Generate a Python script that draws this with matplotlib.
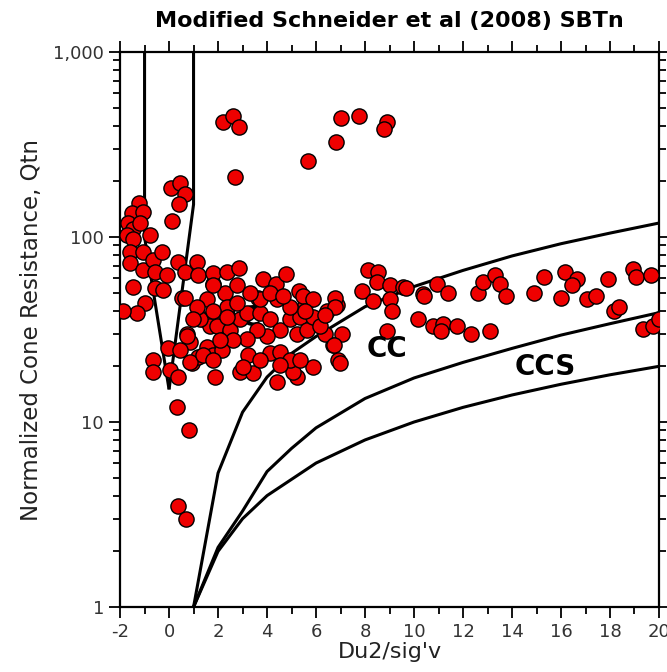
import numpy as np
import matplotlib
matplotlib.use('Agg')
import matplotlib.pyplot as plt
from matplotlib.ticker import MultipleLocator, LogLocator, FuncFormatter, NullFormatter

# ---------------- CPT data: normalised pore pressure vs Qtn ----------------
du2 = [2.19, 2.60, 2.87, 2.71, 0.07, 0.45, 0.67, 0.41, 0.11,
       5.66, 6.82, 7.03, 7.77, 8.91, 8.76,
       -1.21, -1.52, -1.05, -1.66, -1.46, -1.18, -1.73, -1.46, -0.78, -1.59,
       -1.59, -1.05, -1.05, -0.64, -0.30, -0.57, -0.09, 0.38, 0.65, 1.13,
       1.20, 1.81, 2.29, -1.46, -0.57, -0.23, 0.52, -0.98, -1.32, -1.87,
       1.54, 1.81, 1.40, 1.67, 0.86, 0.72, -0.03, 0.45, -0.64, -0.64,
       0.04, 0.38, 0.93, 1.20, 1.54, 1.81, 1.88, 0.31, 0.82, 0.38, 0.68,
       1.81, 2.36, 2.87, 1.81, 2.76, 3.82, 4.37, 4.78, 0.65, 3.64, 5.32,
       0.72, 0.86, 2.90, 3.44, 4.39, 5.21, 6.91, 7.05, 6.71, 6.84, 6.78,
       6.44, 6.37, 5.89, 5.07, 3.24, 1.40, 1.27, 2.15, 1.95, 2.49, 2.90,
       3.17, 3.71, 4.12, 4.53, 4.94, 5.35, 5.21, 5.62, 5.89, 6.16, 5.55,
       4.94, 4.39, 5.48, 5.89, 3.99, 3.58, 3.17, 2.63, 2.08, 4.12, 4.53,
       4.94, 5.35, 4.53, 3.71, 3.03, 1.81, 3.71, 3.31, 4.12, 4.67, 2.36,
       2.76, 1.81, 2.36, 1.13, 0.99,
       8.13, 8.54, 8.48, 7.87, 9.02, 9.56, 8.34, 9.02, 9.09, 8.88, 10.38,
       10.18, 9.67, 10.42, 10.94, 11.38, 12.62, 12.82, 13.30, 13.51, 13.74,
       14.88, 15.29, 15.98, 16.18, 16.66, 16.46, 17.07, 17.42, 17.92, 18.17,
       18.38, 18.93, 19.06, 19.68, 19.34, 19.75, 20.0,
       10.76, 11.18, 11.10, 11.77, 12.34, 13.09, 6.99, 6.79, 6.38, 6.72, 5.55]
qtn = [420, 451, 395, 212, 183, 195, 171, 150, 122,
       259, 325, 438, 451, 420, 385,
       152, 134, 137, 119, 111, 119, 102, 98, 102, 83,
       72, 83, 66, 75, 83, 65, 62, 73, 65, 73,
       62, 56, 50, 54, 53, 52, 47, 44, 39, 40,
       46, 38, 36, 33, 27, 30, 25, 24.5, 21.6, 18.7,
       19.1, 17.6, 20.8, 22.5, 25.5, 23, 17.6, 12.1, 9.0, 3.5, 3.0,
       64, 65, 68, 55, 55, 59, 56, 63, 47, 47, 51,
       29, 21, 18.7, 18.3, 16.5, 17.6, 21.6, 30, 26, 43, 47,
       40, 30, 19.9, 18.7, 23, 23, 36, 24.5, 33, 31.4, 36,
       39, 38.7, 36, 31.4, 36, 37, 30, 31.4, 37, 33, 43,
       42, 46, 48, 46, 29, 31.4, 28, 27.7, 27.7, 23.5, 24,
       21.6, 21.6, 20.3, 21.6, 19.9, 21.6, 46, 50, 50, 48, 42,
       44, 40, 37, 42, 36,
       66, 65, 57, 51, 55, 54, 45, 46, 40, 31, 49,
       36, 53, 48, 56, 50, 50, 57, 62, 56, 48,
       50, 61, 47, 65, 59, 55, 46, 48, 59, 40,
       42, 67, 61, 62, 32, 33, 36,
       33, 34, 31, 33, 30, 31, 20.8, 42, 38, 26, 40]

# ---------------- SBTn zone boundaries ----------------
# upper boundary (TC / CC)
tc_x = [1, 2, 3, 4, 5, 6, 8, 10, 12, 14, 16, 18, 20]
tc_q = [1, 5.3, 11.3, 17.5, 23.5, 29, 42, 54, 66, 79, 92, 105, 119]
# middle boundary (CC / CCS)
cc_x = [1, 2, 3, 4, 5, 6, 8, 10, 12, 14, 16, 18, 20]
cc_q = [1, 2.1, 3.3, 5.4, 7.2, 9.3, 13.4, 17.3, 21, 25, 29.5, 34, 39]
# lower boundary
ccs_x = [1, 2, 3, 4, 6, 8, 10, 12, 14, 16, 18, 20]
ccs_q = [1, 2, 3, 4, 6, 8, 10, 12, 14, 16, 18, 20]
# drained wedge either side of zero pore pressure
wl_x = [-1, -1, 0]
wl_q = [1000, 100, 15]
wr_x = [1, 1, 0]
wr_q = [1000, 150, 15]

zone_labels = ['TC', 'CC', 'CCS']
zone_x = [3.0, 8.9, 15.35]
zone_q = [36.5, 24.8, 19.8]

fig = plt.figure(figsize=(6.67, 6.72), dpi=100)
ax = fig.add_axes([0.18, 0.0967, 0.808, 0.8259])
ax.set_yscale('log')
ax.set_xlim(-2, 20)
ax.set_ylim(1, 1000)

for bx, bq in [(tc_x, tc_q), (cc_x, cc_q), (ccs_x, ccs_q),
               (wl_x, wl_q), (wr_x, wr_q)]:
    ax.plot(bx, bq, color='black', lw=2.2, zorder=2, solid_capstyle='butt')

ax.text(zone_x[0], zone_q[0], zone_labels[0], fontsize=20, fontweight='bold',
        ha='center', va='center', zorder=1)
for lab, lx, lq in zip(zone_labels[1:], zone_x[1:], zone_q[1:]):
    ax.text(lx, lq, lab, fontsize=20, fontweight='bold',
            ha='center', va='center', zorder=4)

ax.scatter(du2, qtn, s=120, c='#ee0000', edgecolors='black',
           linewidths=1.0, zorder=3, clip_on=True)

ax.xaxis.set_major_locator(MultipleLocator(2))
ax.xaxis.set_minor_locator(MultipleLocator(1))
ax.yaxis.set_major_locator(LogLocator(base=10, numticks=10))
ax.yaxis.set_minor_locator(LogLocator(base=10, subs=np.arange(2, 10), numticks=20))
ax.yaxis.set_major_formatter(FuncFormatter(lambda v, p: '{:,.0f}'.format(v)))
ax.yaxis.set_minor_formatter(NullFormatter())
ax.xaxis.set_major_formatter(FuncFormatter(lambda v, p: '{:.0f}'.format(v)))

ax.tick_params(which='both', direction='out', top=True, right=True,
               width=1.3, colors='black', labelcolor='#333333', labelsize=13)
ax.tick_params(which='major', length=8)
ax.tick_params(which='minor', length=5)
for sp in ax.spines.values():
    sp.set_linewidth(1.6)

ax.set_xlabel("Du2/sig'v", fontsize=16, color='#222222', labelpad=1)
ax.set_ylabel('Normalized Cone Resistance, Qtn', fontsize=16.5,
              color='#222222', labelpad=7)
ax.set_title('Modified Schneider et al (2008) SBTn', fontsize=16,
             fontweight='bold', pad=18)

fig.savefig('out.png', dpi=100, facecolor='white')
